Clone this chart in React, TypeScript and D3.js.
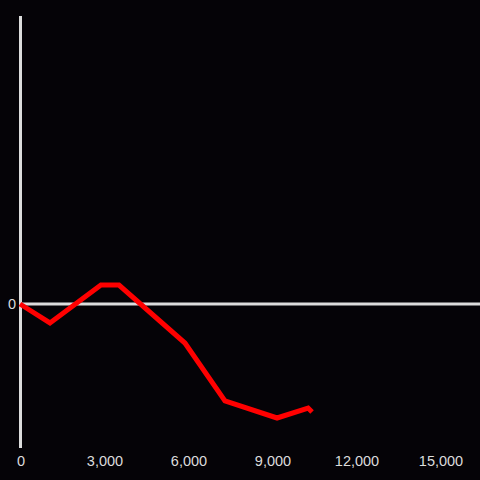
import React from "react";
import * as d3 from "d3";

const xValues = [0, 1070, 2890, 3535, 5890, 7320, 9180, 10290, 10430];
const yValues = [0, -6.3, 6.3, 6.3, -13, -32.3, -38, -34.7, -36];
const xTicks = [0, 3000, 6000, 9000, 12000, 15000];

const W = 480;
const H = 480;

export default function App() {
  const x = d3.scaleLinear().domain([0, 15000]).range([20, 440]);
  const y = d3.scaleLinear().domain([-48, 96]).range([448, 16]);
  const data = xValues.map((v, i) => ({ x: v, y: yValues[i] }));
  const line = d3
    .line<{ x: number; y: number }>()
    .x((d) => x(d.x))
    .y((d) => y(d.y));
  const fmt = d3.format(",");
  return (
    <svg
      width={W}
      height={H}
      style={{ position: "absolute", left: 0, top: 0, display: "block" }}
      fontFamily="'Liberation Sans', Arial, sans-serif"
    >
      <rect x={0} y={0} width={W} height={H} fill="#050307" />
      <line x1={20.5} x2={20.5} y1={16} y2={448} stroke="#dcdcdc" strokeWidth={3} />
      <line x1={20} x2={480} y1={y(0)} y2={y(0)} stroke="#dcdcdc" strokeWidth={3} />
      <text x={16} y={y(0) + 5} textAnchor="end" fontSize={14.5} fill="#dcdcdc">
        0
      </text>
      {xTicks.map((t) => (
        <text key={t} x={x(t) + 1} y={466} textAnchor="middle" fontSize={14.5} fill="#dcdcdc">
          {fmt(t)}
        </text>
      ))}
      <path
        d={line(data) || ""}
        fill="none"
        stroke="#ff0000"
        strokeWidth={5}
        strokeLinejoin="miter"
        strokeLinecap="butt"
      />
    </svg>
  );
}
